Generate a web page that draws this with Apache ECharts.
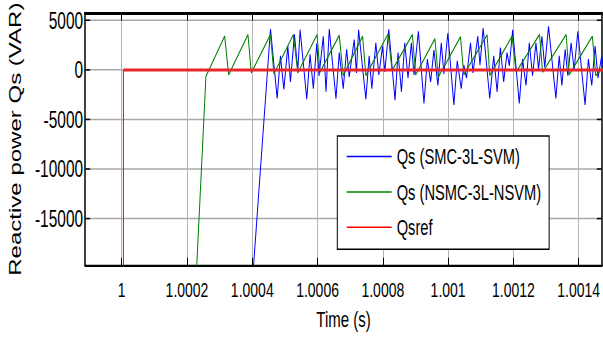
<!DOCTYPE html>
<html>
<head>
<meta charset="utf-8">
<script src="https://cdn.jsdelivr.net/npm/echarts@6/dist/echarts.min.js"></script>
<style>
html,body{margin:0;padding:0;background:#fff;}
#wrap{width:603px;height:338px;overflow:hidden;background:#fff;position:relative;}
#c{width:603px;height:225px;transform:scale(1,1.5022222);transform-origin:0 0;}
</style>
</head>
<body>
<div id="wrap"><div id="c"></div></div>
<script>
// ---- axis ticks ----
const xTickValues = [1, 1.0002, 1.0004, 1.0006, 1.0008, 1.001, 1.0012, 1.0014];
const xTickLabels = ['1', '1.0002', '1.0004', '1.0006', '1.0008', '1.001', '1.0012', '1.0014'];
const yTickValues = [-15000, -10000, -5000, 0, 5000];
const yTickLabels = ['-15000', '-10000', '-5000', '0', '5000'];
const xRange = [0.999888, 1.001471];
const yRange = [-19734, 5761];

// ---- series names ----
const seriesNames = ['Qs (SMC-3L-SVM)', 'Qs (NSMC-3L-NSVM)', 'Qsref'];

// ---- Qs (SMC-3L-SVM) : time (s), reactive power (VAR) ----
const blueTime = [1.0004012, 1.0004558, 1.0004763, 1.0004863, 1.0004967, 1.0005089, 1.0005169, 1.0005291, 1.0005395, 1.0005465,
  1.0005669, 1.0005770, 1.0005871, 1.0005975, 1.0006045, 1.0006176, 1.0006259, 1.0006359, 1.0006564, 1.0006665,
  1.0006787, 1.0006891, 1.0006970, 1.0007123, 1.0007190, 1.0007257, 1.0007480, 1.0007581, 1.0007663, 1.0007785,
  1.0007877, 1.0007990, 1.0008060, 1.0008182, 1.0008374, 1.0008466, 1.0008570, 1.0008671, 1.0008771, 1.0008875,
  1.0008954, 1.0009089, 1.0009260, 1.0009364, 1.0009464, 1.0009565, 1.0009687, 1.0009791, 1.0009870, 1.0009992,
  1.0010176, 1.0010279, 1.0010401, 1.0010481, 1.0010563, 1.0010686, 1.0010762, 1.0010909, 1.0010976, 1.0011073,
  1.0011275, 1.0011397, 1.0011501, 1.0011601, 1.0011702, 1.0011806, 1.0011876, 1.0011977, 1.0012181, 1.0012282,
  1.0012386, 1.0012487, 1.0012587, 1.0012691, 1.0012771, 1.0012874, 1.0012960, 1.0013076, 1.0013302, 1.0013403,
  1.0013485, 1.0013586, 1.0013668, 1.0013769, 1.0013861, 1.0013974, 1.0014196, 1.0014297, 1.0014401, 1.0014502,
  1.0014593, 1.0014706, 1.0014807];
const blueQ = [-21000, 4140, -2870, 1430, -1950, 2420, -1210, 3600, -60, 4070,
  -2940, 1590, -1880, 2700, -600, 3410, -2200, 4140, -2900, 1760,
  -1880, 2090, -700, 3080, -300, 4070, -2940, 1430, -1880, 2750,
  -500, 2400, -200, 4100, -3040, 1760, -2200, 2750, -800, 2750,
  -500, 3910, -3370, 1100, -1200, 2000, -1550, 2750, -400, 3740,
  -3530, 930, -1880, 500, -800, 2750, -300, 3410, 500, 4240,
  -2870, 1430, -2200, 2260, -1210, 1760, 430, 4070, -3370, 1100,
  -1550, 2750, -560, 2750, 100, 3410, 300, 4400, -2870, 1430,
  -1550, 2090, -560, 2750, 0, 3900, -3530, 1100, -1550, 2420,
  -800, 1430, -1000];

// ---- Qs (NSMC-3L-NSVM) ----
const greenTime = [1.0002281, 1.0002580, 1.0003154, 1.0003276, 1.0003868, 1.0003969, 1.0004558, 1.0004662, 1.0005260, 1.0005395,
  1.0005984, 1.0006075, 1.0006665, 1.0006787, 1.0007379, 1.0007480, 1.0008161, 1.0008283, 1.0008906, 1.0009006,
  1.0009596, 1.0009699, 1.0010380, 1.0010481, 1.0011195, 1.0011275, 1.0011959, 1.0012081, 1.0012801, 1.0012893,
  1.0013616, 1.0013708, 1.0014419, 1.0014523, 1.0014807];
const greenQ = [-21000, -640, 3430, -490, 3580, -290, 3580, -390, 3580, -290,
  3580, -220, 3510, -560, 3410, -560, 3650, -60, 3580, -490,
  3150, -720, 3350, -490, 3550, -560, 3410, -220, 3580, -220,
  3580, -490, 3410, -560, 500];

// ---- Qsref ----
const refStepTime = [1.0000052, 1.0000052];
const refStepQ = [-21000, 0];
const refFlatTime = [1.0000052, 1.0014807];
const refFlatQ = [0, 0];

const zip = (t, q) => t.map((v, i) => [v, q[i]]);
const FONT = '"Liberation Sans", Arial, Helvetica, sans-serif';
const fmt = (vals, labels) => (v) => {
  const i = vals.findIndex(t => Math.abs(t - v) < 1e-9);
  return i >= 0 ? labels[i] : '';
};

const chart = echarts.init(document.getElementById('c'), null, {renderer: 'svg'});
chart.setOption({
  animation: false,
  backgroundColor: '#fff',
  textStyle: {fontFamily: FONT},
  grid: {left: 83.3, right: 1, top: 8.65, bottom: 45.27, containLabel: false},
  legend: {
    data: seriesNames,
    orient: 'vertical',
    left: 337.3,
    top: 90.53,
    icon: 'rect',
    itemWidth: 45,
    itemHeight: 1,
    itemGap: 8.5,
    padding: [6.2, 8, 7.2, 9.4],
    backgroundColor: '#fff',
    borderColor: '#000',
    borderWidth: 1,
    borderRadius: 0,
    textStyle: {fontSize: 14.7, color: '#000', fontFamily: FONT, lineHeight: 15}
  },
  xAxis: [{
    type: 'value', position: 'bottom', min: xRange[0], max: xRange[1],
    name: 'Time (s)', nameLocation: 'middle', nameGap: 27,
    nameTextStyle: {fontSize: 15, color: '#000', fontFamily: FONT},
    axisLine: {show: true, onZero: false, lineStyle: {color: '#000', width: 1.5}},
    axisTick: {show: true, inside: true, length: 5, customValues: xTickValues, lineStyle: {color: '#000', width: 1}},
    axisLabel: {customValues: xTickValues, formatter: fmt(xTickValues, xTickLabels), margin: 9.5,
      fontSize: 14, color: '#000', fontFamily: FONT},
    splitLine: {show: true, lineStyle: {color: '#b4b4b4', width: 1}}
  }, {
    type: 'value', position: 'top', min: xRange[0], max: xRange[1],
    axisLine: {show: true, onZero: false, lineStyle: {color: '#000', width: 2}},
    axisTick: {show: true, inside: true, length: 5, customValues: xTickValues, lineStyle: {color: '#000', width: 1}},
    axisLabel: {show: false},
    splitLine: {show: false}
  }],
  yAxis: [{
    type: 'value', position: 'left', min: yRange[0], max: yRange[1],
    name: 'Reactive power Qs (VAR)', nameLocation: 'middle', nameGap: 58,
    nameTextStyle: {fontSize: 16, color: '#000', fontFamily: FONT},
    axisLine: {show: true, onZero: false, lineStyle: {color: '#000', width: 1.5}},
    axisTick: {show: true, inside: true, length: 5, customValues: yTickValues, lineStyle: {color: '#000', width: 1}},
    axisLabel: {customValues: yTickValues, formatter: fmt(yTickValues, yTickLabels), margin: 2,
      fontSize: 15.5, color: '#000', fontFamily: FONT},
    splitLine: {show: true, lineStyle: {color: '#a8a8a8', width: 1}}
  }, {
    type: 'value', position: 'right', min: yRange[0], max: yRange[1],
    axisLine: {show: true, onZero: false, lineStyle: {color: '#000', width: 1.5}},
    axisTick: {show: true, inside: true, length: 5, customValues: yTickValues, lineStyle: {color: '#000', width: 1}},
    axisLabel: {show: false},
    splitLine: {show: false}
  }],
  series: [
    {name: seriesNames[0], type: 'line', data: zip(blueTime, blueQ), showSymbol: false, symbol: 'none',
      lineStyle: {color: '#0000ff', width: 1}, itemStyle: {color: '#0000ff'}, clip: true},
    {name: seriesNames[1], type: 'line', data: zip(greenTime, greenQ), showSymbol: false, symbol: 'none',
      lineStyle: {color: '#008000', width: 1}, itemStyle: {color: '#008000'}, clip: true},
    {name: seriesNames[2], type: 'line', data: zip(refStepTime, refStepQ), showSymbol: false, symbol: 'none',
      lineStyle: {color: '#ff0000', width: 1}, itemStyle: {color: '#ff0000'}, clip: true},
    {name: seriesNames[2], type: 'line', data: zip(refFlatTime, refFlatQ), showSymbol: false, symbol: 'none',
      lineStyle: {color: '#e8262a', width: 2}, itemStyle: {color: '#ff0000'}, clip: true}
  ]
});
</script>
</body>
</html>
